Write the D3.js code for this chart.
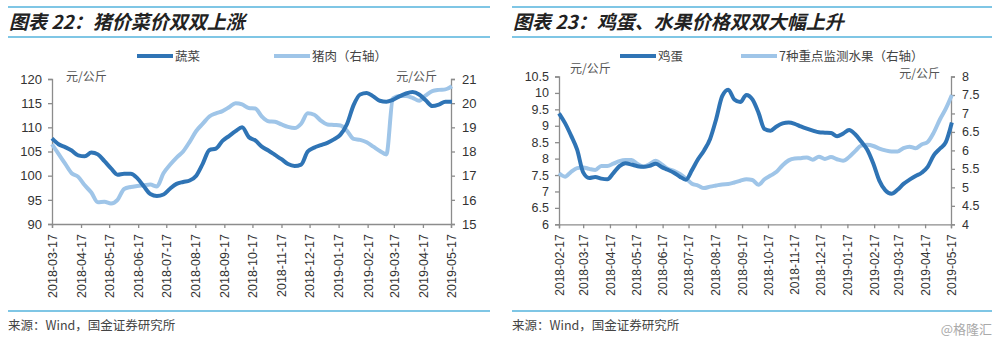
<!DOCTYPE html>
<html><head><meta charset="utf-8">
<script src="https://cdn.jsdelivr.net/npm/d3@7"></script>
<style>
body{margin:0;background:#fff;}
svg{display:block;}
.cjk{font-family:"Noto Sans CJK SC","Noto Sans",sans-serif;}
.lat{font-family:"Liberation Sans",Arial,sans-serif;}
</style></head>
<body>
<svg id="c" width="1000" height="343"></svg>
<script>
// ---------- Chart 22 data ----------
const c1Title = "图表 22：猪价菜价双双上涨";
const c1Start = "2018-03-17";
const c1Ticks = ["2018-03-17","2018-04-17","2018-05-17","2018-06-17","2018-07-17","2018-08-17","2018-09-17","2018-10-17","2018-11-17","2018-12-17","2019-01-17","2019-02-17","2019-03-17","2019-04-17","2019-05-17"];
const c1SeriesNames = ["蔬菜","猪肉（右轴）"];
const vegetables = [107.7,106.5,105.9,105.2,104.2,104.0,104.8,104.4,103.0,101.5,100.2,100.4,100.4,99.5,97.8,96.2,95.8,96.1,97.3,98.3,98.7,99.0,100.0,102.5,105.3,105.6,107.2,108.2,109.2,110.0,108.0,107.3,106.0,105.2,104.3,103.4,102.4,102.0,102.3,105.0,105.8,106.3,106.8,107.5,108.5,110.7,114.6,116.8,117.1,116.4,115.5,115.3,115.7,116.4,117.0,117.3,116.8,115.6,114.4,114.7,115.3,115.3];
const pork = [18.3,17.9,17.5,17.1,16.95,16.6,16.3,15.9,15.92,15.85,16.0,16.45,16.53,16.57,16.6,16.63,16.55,17.1,17.45,17.75,18.0,18.4,18.85,19.15,19.45,19.58,19.67,19.83,20.0,19.95,19.8,19.78,19.45,19.25,19.23,19.12,19.02,18.97,19.15,19.58,19.52,19.28,19.12,19.1,19.08,18.85,18.52,18.48,18.38,18.2,18.02,17.88,20.2,20.3,20.3,20.22,20.1,20.32,20.5,20.55,20.57,20.7];
const c1LeftTicks = [90,95,100,105,110,115,120];
const c1RightTicks = [15,16,17,18,19,20,21];

// ---------- Chart 23 data ----------
const c2Title = "图表 23：鸡蛋、水果价格双双大幅上升";
const c2Start = "2018-02-17";
const c2Ticks = ["2018-02-17","2018-03-17","2018-04-17","2018-05-17","2018-06-17","2018-07-17","2018-08-17","2018-09-17","2018-10-17","2018-11-17","2018-12-17","2019-01-17","2019-02-17","2019-03-17","2019-04-17","2019-05-17"];
const c2SeriesNames = ["鸡蛋","7种重点监测水果（右轴）"];
const eggs = [9.38,9.08,8.70,8.27,7.58,7.41,7.44,7.39,7.37,7.56,7.77,7.86,7.82,7.77,7.75,7.78,7.84,7.74,7.66,7.57,7.45,7.36,7.65,7.98,8.25,8.6,9.2,9.9,10.1,9.8,9.72,9.94,9.8,9.4,8.9,8.85,8.98,9.07,9.10,9.06,8.98,8.91,8.85,8.80,8.79,8.78,8.68,8.76,8.87,8.74,8.52,8.27,7.85,7.33,7.03,6.93,7.05,7.23,7.36,7.47,7.57,7.75,8.1,8.3,8.5,9.1];
const fruit = [5.38,5.29,5.42,5.52,5.54,5.50,5.47,5.58,5.58,5.64,5.71,5.74,5.74,5.63,5.56,5.63,5.72,5.62,5.50,5.45,5.36,5.24,5.10,5.05,4.98,5.02,5.05,5.08,5.09,5.13,5.18,5.22,5.20,5.07,5.22,5.32,5.42,5.60,5.73,5.78,5.79,5.81,5.75,5.83,5.77,5.82,5.76,5.72,5.82,5.98,6.13,6.15,6.12,6.05,6.0,5.97,5.97,6.06,6.10,6.06,6.16,6.23,6.48,6.83,7.13,7.5];
const c2LeftTicks = [6,6.5,7,7.5,8,8.5,9,9.5,10,10.5];
const c2RightTicks = [4,4.5,5,5.5,6,6.5,7,7.5,8];

const unitLabel = "元/公斤";
const sourceText = "来源：Wind，国金证券研究所";

const DARK = "#2f74b5", LIGHT = "#9fc5e8", RULE = "#55b3dc", AXIS = "#8c8c8c", TXT = "#333";
const parse = d3.timeParse("%Y-%m-%d");
const fmt = d3.timeFormat("%Y-%m-%d");
const svg = d3.select("#c");

function weekly(start, vals){
  const s = parse(start);
  return vals.map((v,i)=>({d:d3.timeDay.offset(s,7*i), v}));
}

function drawChart(o){
  const g = svg.append("g");
  // rules
  [o.ruleTop, o.ruleMid, o.ruleBot].forEach(y=>{
    g.append("line").attr("x1",o.rx0).attr("x2",o.rx1).attr("y1",y).attr("y2",y)
     .attr("stroke",RULE).attr("stroke-width",1.6);
  });
  // title
  g.append("text").attr("class","cjk").attr("x",o.rx0+1).attr("y",o.ruleTop+22)
   .attr("font-size",19).attr("font-weight","bold").attr("font-style","italic").attr("fill","#222")
   .text(o.title);
  // source
  g.append("text").attr("class","cjk").attr("x",o.rx0).attr("y",o.ruleBot+19)
   .attr("font-size",12.5).attr("fill","#444").text(sourceText);

  const x = d3.scaleTime().domain([parse(o.ticks[0]), parse(o.ticks[o.ticks.length-1])]).range([o.x0,o.x1]);
  const yl = d3.scaleLinear().domain(o.ldom).range([o.y1,o.y0]);
  const yr = d3.scaleLinear().domain(o.rdom).range([o.y1,o.y0]);

  const axStyle = sel=>{
    sel.selectAll(".domain").attr("stroke",AXIS).attr("stroke-width",1.3);
    sel.selectAll(".tick line").attr("stroke",AXIS).attr("stroke-width",1.3);
    sel.selectAll("text").attr("fill",TXT).attr("font-family","Liberation Sans, Arial, sans-serif");
  };
  const gl = g.append("g").attr("transform",`translate(${o.x0},0)`)
    .call(d3.axisLeft(yl).tickValues(o.lticks).tickSize(4).tickPadding(6).tickFormat(d=>String(d)));
  axStyle(gl); gl.selectAll("text").attr("font-size",o.yfs);
  const gr = g.append("g").attr("transform",`translate(${o.x1},0)`)
    .call(d3.axisRight(yr).tickValues(o.rticks).tickSize(4).tickPadding(7).tickFormat(d=>String(d)));
  axStyle(gr); gr.selectAll("text").attr("font-size",o.yfs);
  const gx = g.append("g").attr("transform",`translate(0,${o.y1})`)
    .call(d3.axisBottom(x).tickValues(o.ticks.map(parse)).tickSize(4).tickFormat(fmt));
  axStyle(gx);
  gx.selectAll("text").attr("font-size",o.xfs).attr("text-anchor","end")
    .attr("transform","rotate(-90)").attr("x",-10).attr("y",0).attr("dy","0.35em");

  // unit labels
  g.append("text").attr("class","cjk").attr("x",o.ul[0]).attr("y",o.ul[1]).attr("font-size",12).attr("fill","#555").text(unitLabel);
  g.append("text").attr("class","cjk").attr("x",o.ur[0]).attr("y",o.ur[1]).attr("font-size",12).attr("fill","#555").attr("text-anchor","end").text(unitLabel);

  // lines
  const la = d3.line().x(d=>x(d.d)).y(d=>yl(d.v)).curve(d3.curveMonotoneX);
  const lb = d3.line().x(d=>x(d.d)).y(d=>yr(d.v)).curve(d3.curveMonotoneX);
  g.append("path").datum(weekly(o.start,o.sB)).attr("d",lb).attr("fill","none").attr("stroke",LIGHT).attr("stroke-width",4).attr("stroke-linejoin","round");
  g.append("path").datum(weekly(o.start,o.sA)).attr("d",la).attr("fill","none").attr("stroke",DARK).attr("stroke-width",4).attr("stroke-linejoin","round");

  // legend
  o.leg.forEach((l,i)=>{
    g.append("line").attr("x1",l[0]).attr("x2",l[0]+36).attr("y1",o.legY).attr("y2",o.legY)
     .attr("stroke",i?LIGHT:DARK).attr("stroke-width",4);
    g.append("text").attr("class","cjk").attr("x",l[0]+38).attr("y",o.legY+4.5).attr("font-size",12.5).attr("fill","#444").text(o.names[i]);
  });
}

drawChart({title:c1Title,start:c1Start,ticks:c1Ticks,names:c1SeriesNames,sA:vegetables,sB:pork,
  ldom:[90,120],rdom:[15,21],lticks:c1LeftTicks,rticks:c1RightTicks,
  x0:52,x1:451,y0:79,y1:224,rx0:8,rx1:490,ruleTop:7,ruleMid:37,ruleBot:311,
  yfs:13,xfs:12.5,ul:[66,81],ur:[437,81],legY:56,leg:[[137],[274]]});

drawChart({title:c2Title,start:c2Start,ticks:c2Ticks,names:c2SeriesNames,sA:eggs,sB:fruit,
  ldom:[6,10.5],rdom:[4,8],lticks:c2LeftTicks,rticks:c2RightTicks,
  x0:559,x1:951,y0:76.5,y1:224.3,rx0:512,rx1:992,ruleTop:7,ruleMid:37,ruleBot:311,
  yfs:12.5,xfs:12,ul:[570,73],ur:[940,78],legY:56,leg:[[620],[741]]});

svg.append("text").attr("class","cjk").attr("x",992).attr("y",334).attr("text-anchor","end")
  .attr("font-size",13).attr("fill","#aaa").text("@格隆汇");
</script>
</body></html>
